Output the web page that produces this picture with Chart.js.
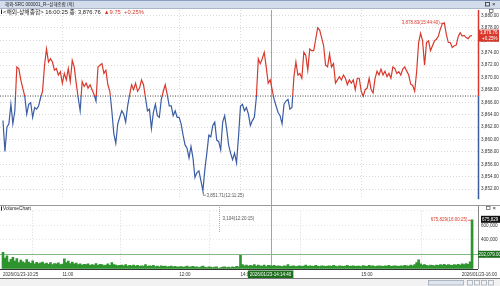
<!DOCTYPE html>
<html>
<head>
<meta charset="utf-8">
<script src="https://cdn.jsdelivr.net/npm/chart.js@4.4.1/dist/chart.umd.min.js"></script>
<style>
  html,body{margin:0;padding:0;background:#fff;}
  body{width:500px;height:286px;position:relative;overflow:hidden;}
  #priceChart{position:absolute;left:0;top:0;}
  #volumeChart{position:absolute;left:0;top:205px;}
</style>
</head>
<body>
<canvas id="priceChart" width="500" height="205"></canvas>
<canvas id="volumeChart" width="500" height="81"></canvas>
<script>
// ===== data (one point per minute, lunch break skipped) =====
const titleText = '해외-SRC 000001_R--상해종합 (적)';
const legendName = '<해외-상해종합> 16:00:25 종: ';
const prevClose = 3867.01;

const prices = [
  3863.05,3858.07,3862.00,3862.53,3865.68,3862.53,3864.63,3871.71,3871.45,3869.61,
  3868.30,3866.99,3864.10,3865.68,3865.94,3863.58,3865.15,3864.89,3865.41,3866.73,
  3867.78,3871.98,3874.60,3872.50,3873.03,3872.50,3871.19,3871.45,3870.40,3870.93,
  3869.09,3870.66,3869.61,3871.45,3869.35,3872.76,3871.71,3869.09,3866.73,3864.63,
  3869.35,3868.56,3869.09,3868.30,3868.83,3868.04,3867.25,3866.20,3871.71,3871.98,
  3872.24,3870.66,3871.19,3868.83,3867.78,3864.63,3860.95,3859.38,3862.53,3863.58,
  3864.63,3864.10,3862.79,3865.41,3867.25,3868.83,3868.04,3869.09,3867.78,3868.30,
  3869.61,3868.83,3866.73,3864.63,3864.89,3861.74,3864.36,3865.68,3863.84,3863.58,
  3866.46,3867.78,3868.83,3867.25,3865.41,3865.41,3863.84,3864.63,3863.58,3863.58,
  3862.53,3860.69,3859.12,3858.59,3857.02,3858.85,3857.02,3853.87,3854.65,3854.92,
  3853.34,3851.71,3855.18,3857.80,3860.69,3860.43,3862.26,3862.79,3859.90,3859.64,
  3858.33,3862.79,3863.84,3861.74,3859.12,3857.80,3856.75,3857.80,3856.23,3860.43,
  3865.41,3865.68,3864.63,3865.15,3864.10,3862.26,3863.05,3863.58,3866.73,3873.03,
  3872.24,3873.03,3874.08,3871.71,3869.09,3869.61,3868.04,3866.46,3865.41,3864.36,
  3863.84,3862.53,3865.68,3866.20,3866.46,3864.89,3865.15,3870.14,3872.50,3870.40,
  3870.66,3869.88,3874.08,3873.55,3871.19,3874.60,3874.34,3874.34,3876.18,3878.01,
  3877.65,3876.44,3875.13,3871.98,3871.71,3873.81,3871.71,3872.24,3869.09,3869.61,
  3870.14,3869.61,3870.40,3869.88,3868.83,3869.61,3869.09,3869.61,3868.04,3869.88,
  3869.88,3867.78,3866.99,3868.04,3868.30,3869.88,3868.04,3867.51,3869.88,3871.03,
  3870.40,3871.35,3870.40,3871.03,3870.14,3870.66,3869.88,3871.71,3871.45,3870.66,
  3870.93,3870.40,3871.35,3871.71,3871.03,3870.40,3868.93,3868.72,3867.78,3870.93,
  3875.65,3877.12,3875.91,3871.98,3875.65,3875.91,3874.34,3875.13,3875.91,3876.18,
  3876.70,3877.86,3878.70,3878.83,3876.96,3875.65,3875.65,3874.86,3875.13,3875.23,
  3876.60,3877.23,3876.70,3876.81,3876.44,3876.28,3876.70,3876.76
];

const volumes = [
  229400,151200,182600,95300,131800,160400,108700,141900,89600,121300,
  99800,84200,128700,94100,79600,110900,69800,91200,74500,86300,
  94700,70100,81300,64800,89900,60200,75600,69400,84700,59800,
  66300,138500,89100,108600,74200,95800,69700,80400,59300,70800,
  55400,64900,60100,69800,49700,60600,54800,74300,50200,64700,
  59600,45300,54900,69700,50400,89200,60300,55100,44800,50600,
  54700,45200,59800,40300,49600,44900,55300,40100,49800,35200,
  44600,39800,59700,35400,45100,39600,50200,34800,40300,30100,
  44800,35300,39700,30200,34900,40400,29800,35200,25100,30300,
  34700,25300,29900,40200,24800,30100,35400,24900,30200,20300,
  29800,40100,25200,19800,30300,24700,20100,25300,29600,3104,
  20400,24900,30200,19700,25100,20300,29800,24600,35200,30400,
  187300,60100,44800,55200,39700,50300,44900,60200,40100,54800,
  45200,39900,55100,34800,50200,45300,39800,49700,35100,44900,
  40200,34800,45100,39700,60300,35200,40100,44800,34900,40300,
  44700,35100,40200,54900,35300,44800,39900,35200,50100,40300,
  34800,45200,39700,35100,40200,44900,35300,49800,40100,34900,
  45100,39800,35200,40300,49700,35100,40200,44800,35300,39900,
  40100,34800,45300,39700,35200,50100,40300,44900,34800,40200,
  44800,39900,35100,45200,40300,49800,35200,40100,44700,39800,
  35300,44900,40200,50100,44800,40300,55200,44900,59800,89700,
  125300,70200,54800,60100,49900,45200,54800,50300,44900,55100,
  49800,60200,54900,65100,50200,59800,55300,49900,60200,54800,
  65200,55100,70300,59800,75100,64900,99800,675829
];

// x tick positions (index into data) and their labels
const tickIdx  = [0, 30, 89, 120, 181];
const tickText = ['2026/01/23-10:25', '11:00', '12:00', '14:00', '15:00'];
const endLabel = '2026/01/23-16:00';

// marks
const hiIdx = 223, hiTime = '15:44:40';
const loIdx = 101, loTime = '12:11:25';
const volMinIdx = 109, volMinTime = '12:20:15';
const volMaxIdx = 237, volMaxTime = '16:00:25';
const crossIdx = 135.2, crossTime = '2026/01/23-14:14:40', crossVol = 202079;

// ===== style =====
const FONT = "'Liberation Sans','Noto Sans CJK KR',sans-serif";
const upColor = '#d8392c';
const downColor = '#3a5da4';
const crossColor = '#84b884';
const gridColor = '#d9d9d9';
const xMin = -1.5, xMax = 240;

Chart.defaults.font.family = FONT;

const lastPrice = prices[prices.length-1];
const change = lastPrice - prevClose;
const changePct = change / prevClose * 100;

const fmt2 = v => v.toLocaleString('en-US',{minimumFractionDigits:2,maximumFractionDigits:2});
const fmt0 = v => v.toLocaleString('en-US');

function splitColor(chart){
  const a = chart.chartArea;
  if(!a) return upColor;
  const yRef = chart.scales.y.getPixelForValue(prevClose);
  const r = Math.min(1, Math.max(0, (yRef - a.top) / (a.bottom - a.top)));
  const g = chart.ctx.createLinearGradient(0, a.top, 0, a.bottom);
  g.addColorStop(0, upColor); g.addColorStop(r, upColor);
  g.addColorStop(r, downColor); g.addColorStop(1, downColor);
  return g;
}

// ----- price panel decorations -----
const pricePlugin = {
  id:'pricePanel',
  beforeDraw(chart){
    const c = chart.ctx;
    c.save();
    c.fillStyle = '#d3dcea'; c.fillRect(0,0,500,8);
    c.fillStyle = '#8fa1c1'; c.fillRect(0,0,500,1);
    c.fillStyle = '#aab6ca'; c.fillRect(0,8,500,1);
    c.font = '4.5px '+FONT; c.fillStyle = '#1e1e1e'; c.textBaseline = 'middle';
    c.fillText(titleText, 5, 4.6);
    c.strokeStyle = '#333'; c.lineWidth = 0.8;
    c.strokeRect(485.5, 2.5, 4, 3.5);
    c.font = '6px '+FONT;
    c.fillText('×', 492, 4.5);
    c.restore();
  },
  beforeDatasetsDraw(chart){
    const {ctx:c, chartArea:a, scales:{x}} = chart;
    const cx = Math.round(x.getPixelForValue(crossIdx)) + 0.5;
    c.save();
    c.strokeStyle = crossColor; c.lineWidth = 1;
    c.beginPath(); c.moveTo(cx, a.top); c.lineTo(cx, 205); c.stroke();
    c.restore();
  },
  afterDraw(chart){
    const {ctx:c, chartArea:a, scales:{x, y}} = chart;
    c.save();
    // right axis line, red above previous close, blue below
    const yRef = y.getPixelForValue(prevClose);
    c.lineWidth = 1.5;
    c.strokeStyle = upColor;
    c.beginPath(); c.moveTo(a.right+0.5, a.top); c.lineTo(a.right+0.5, yRef); c.stroke();
    c.strokeStyle = downColor;
    c.beginPath(); c.moveTo(a.right+0.5, yRef); c.lineTo(a.right+0.5, a.bottom); c.stroke();

    // legend line
    c.textBaseline = 'middle'; c.textAlign = 'left';
    c.fillStyle = '#222'; c.fillRect(1, 9.5, 1, 4.5);
    c.font = '5.8px '+FONT;
    const s1 = legendName + fmt2(lastPrice) + '  ';
    c.fillText(s1, 3, 12);
    c.fillStyle = upColor;
    c.fillText('▲' + change.toFixed(2) + '  +' + changePct.toFixed(2) + '%', 3 + c.measureText(s1).width, 12);

    // small panel icon
    c.strokeStyle = '#555'; c.lineWidth = 0.7;
    c.strokeRect(489.5, 9.5, 3.5, 3);

    // current price box
    c.font = '4.5px '+FONT;
    const py = y.getPixelForValue(lastPrice);
    c.fillStyle = upColor;
    c.fillRect(a.right, py-6, 21, 12);
    c.fillStyle = '#fff';
    c.fillText(fmt2(lastPrice), a.right+2, py-2.6);
    c.fillText('+' + changePct.toFixed(2) + '%', a.right+4, py+2.8);

    // high mark
    const hx = x.getPixelForValue(hiIdx), hy = y.getPixelForValue(prices[hiIdx]);
    c.strokeStyle = upColor; c.lineWidth = 0.7;
    c.beginPath(); c.moveTo(hx-4, hy+0.5); c.lineTo(hx-1, hy+0.5); c.stroke();
    c.fillStyle = upColor; c.textAlign = 'right';
    c.fillText(fmt2(prices[hiIdx]) + '(' + hiTime + ')', hx-4.5, hy+0.3);

    // low mark
    const lx = x.getPixelForValue(loIdx), ly = y.getPixelForValue(prices[loIdx]);
    c.strokeStyle = '#666';
    c.beginPath(); c.moveTo(lx+0.5, ly+1); c.lineTo(lx+0.5, ly+4.5); c.lineTo(lx+3, ly+4.5); c.stroke();
    c.fillStyle = '#555'; c.textAlign = 'left';
    c.fillText(fmt2(prices[loIdx]) + '(' + loTime + ')', lx+3.5, ly+4.5);
    c.restore();
  }
};

new Chart(document.getElementById('priceChart'), {
  type:'line',
  data:{
    datasets:[
      {
        data: prices.map((v,i)=>({x:i, y:v})),
        borderColor: ctx => splitColor(ctx.chart),
        borderWidth: 1.2,
        pointRadius: 0,
        tension: 0
      },
      {
        data: [{x:xMin, y:prevClose}, {x:xMax, y:prevClose}],
        borderColor: '#444',
        borderWidth: 1,
        borderDash: [1,1.5],
        pointRadius: 0
      }
    ]
  },
  options:{
    responsive:false,
    animation:false,
    events:[],
    layout:{padding:{top:10, bottom:1, left:0, right:0}},
    plugins:{legend:{display:false}, tooltip:{enabled:false}},
    scales:{
      x:{
        type:'linear', min:xMin, max:xMax,
        afterBuildTicks: s => { s.ticks = tickIdx.slice(1).map(v=>({value:v})); },
        ticks:{display:false},
        grid:{color:gridColor, drawTicks:false},
        border:{display:false, dash:[1,2]},
        afterFit: s => { s.height = 0; }
      },
      y:{
        position:'right', min:3850.35, max:3880.9,
        ticks:{stepSize:2, includeBounds:false, padding:3, color:'#333',
               font:{size:4.6}, callback: v => fmt2(v)},
        grid:{color:gridColor, drawTicks:false},
        border:{display:false, dash:[1,2]},
        afterFit: s => { s.width = 22; }
      }
    }
  },
  plugins:[pricePlugin]
});

// ----- volume panel decorations -----
const volumePlugin = {
  id:'volumePanel',
  beforeDatasetsDraw(chart){
    const {ctx:c, chartArea:a, scales:{x, y}} = chart;
    const cx = Math.round(x.getPixelForValue(crossIdx)) + 0.5;
    const ly = Math.round(y.getPixelForValue(crossVol)) + 0.5;
    c.save();
    c.strokeStyle = crossColor; c.lineWidth = 1;
    c.beginPath(); c.moveTo(cx, 0); c.lineTo(cx, a.bottom); c.stroke();
    c.beginPath(); c.moveTo(a.left, ly); c.lineTo(a.right, ly); c.stroke();
    c.restore();
  },
  afterDraw(chart){
    const {ctx:c, chartArea:a, scales:{x, y}} = chart;
    c.save();
    // separator and frame lines
    c.strokeStyle = '#9a9a9a'; c.lineWidth = 1;
    c.beginPath(); c.moveTo(0, 0.5); c.lineTo(500, 0.5); c.stroke();
    c.strokeStyle = '#888';
    c.beginPath(); c.moveTo(a.right+0.5, 1); c.lineTo(a.right+0.5, a.bottom); c.stroke();
    c.strokeStyle = '#333';
    c.beginPath(); c.moveTo(0, a.bottom+0.5); c.lineTo(a.right, a.bottom+0.5); c.stroke();
    c.strokeStyle = '#777';
    c.beginPath(); c.moveTo(0, 73.5); c.lineTo(500, 73.5); c.stroke();

    // title
    c.font = '4.8px '+FONT; c.textBaseline = 'middle'; c.textAlign = 'left';
    c.fillStyle = '#222'; c.fillRect(1, 1.5, 1, 4);
    c.fillText('VolumeChart', 3, 3.6);
    c.strokeStyle = '#555'; c.lineWidth = 0.7;
    c.strokeRect(486.5, 1.5, 3.5, 3);
    c.font = '6px '+FONT; c.fillText('×', 492.5, 3.3);

    c.font = '4.5px '+FONT;
    // crosshair level box
    const ly = y.getPixelForValue(crossVol);
    c.fillStyle = '#1d6e1d';
    c.fillRect(a.right, ly-3.5, 22, 7);
    c.fillStyle = '#fff';
    c.fillText(fmt2(crossVol), a.right+0.5, ly+0.2);

    // max volume marks
    const mx = x.getPixelForValue(volMaxIdx), my = y.getPixelForValue(volumes[volMaxIdx]);
    c.fillStyle = '#111';
    c.fillRect(a.right+3, my-4, 19, 7);
    c.fillStyle = '#fff';
    c.fillText(fmt0(volumes[volMaxIdx]), a.right+4, my-0.4);
    c.strokeStyle = upColor; c.lineWidth = 0.7;
    c.beginPath(); c.moveTo(mx-4, my+0.5); c.lineTo(mx-1, my+0.5); c.stroke();
    c.fillStyle = upColor; c.textAlign = 'right';
    c.fillText(fmt0(volumes[volMaxIdx]) + '(' + volMaxTime + ')', mx-4.5, my+0.3);

    // min volume mark
    const nx = Math.round(x.getPixelForValue(volMinIdx)) + 0.5;
    c.strokeStyle = '#888'; c.setLineDash([1,1]);
    c.beginPath(); c.moveTo(nx, 2); c.lineTo(nx, 28); c.stroke();
    c.setLineDash([]);
    c.fillStyle = '#555'; c.textAlign = 'left';
    c.fillText(fmt0(volumes[volMinIdx]) + '(' + volMinTime + ')', nx+3, 14);

    // end date label
    c.fillStyle = '#333'; c.textAlign = 'right';
    c.fillText(endLabel, 497, 69.5);

    // crosshair time box
    const cx = x.getPixelForValue(crossIdx);
    c.textAlign = 'center';
    const tw = c.measureText(crossTime).width + 4;
    c.fillStyle = '#1d6e1d';
    c.fillRect(cx - tw/2, 65.5, tw, 7.5);
    c.fillStyle = '#fff';
    c.fillText(crossTime, cx, 69.5);

    // scroll bar
    c.fillStyle = '#f2f2f2'; c.fillRect(0, 74, 500, 7);
    c.fillStyle = '#dfe5ee'; c.fillRect(428, 75.5, 36, 4.5);
    c.strokeStyle = '#9aa3b0'; c.lineWidth = 0.7; c.strokeRect(428.5, 75.5, 35, 4.5);
    [467, 474, 481, 488].forEach(bx => { c.strokeRect(bx+0.5, 75.5, 5, 4.5); });
    c.restore();
  }
};

new Chart(document.getElementById('volumeChart'), {
  type:'bar',
  data:{
    datasets:[{
      data: volumes.map((v,i)=>({x:i, y:v})),
      backgroundColor:'#2e952e',
      borderWidth:0,
      barPercentage:1,
      categoryPercentage:1
    }]
  },
  options:{
    responsive:false,
    animation:false,
    events:[],
    layout:{padding:{top:0, bottom:0, left:0, right:0}},
    plugins:{legend:{display:false}, tooltip:{enabled:false}},
    scales:{
      x:{
        type:'linear', min:xMin, max:xMax, offset:false,
        afterBuildTicks: s => { s.ticks = tickIdx.map(v=>({value:v})); },
        ticks:{autoSkip:false, maxRotation:0, align:'start', padding:3, color:'#333',
               font:{size:4.5}, callback:(v,i) => tickText[i]},
        grid:{drawTicks:false, color: c => c.index === 0 ? 'rgba(0,0,0,0)' : gridColor},
        border:{display:false, dash:[1,2]},
        afterFit: s => { s.height = 17; }
      },
      y:{
        position:'right', min:0, max:800000,
        ticks:{stepSize:200000, padding:3, color:'#333', font:{size:4.6},
               callback: v => (v === 0 || v === 800000) ? '' : fmt0(v)},
        grid:{color:'#e6e6e6', drawTicks:false},
        border:{display:false, dash:[1,2]},
        afterFit: s => { s.width = 22; }
      }
    }
  },
  plugins:[volumePlugin]
});
</script>
</body>
</html>
